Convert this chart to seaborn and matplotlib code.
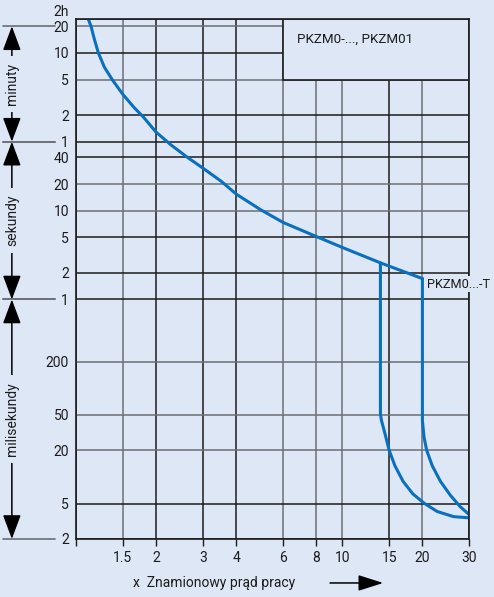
import matplotlib
matplotlib.use("Agg")
import matplotlib.pyplot as plt
import seaborn as sns
from matplotlib.patches import Rectangle
from matplotlib.ticker import NullLocator

BG = "#dde7f6"
BLUE = "#0a70bd"
DARK = "#1c1c1c"
GREY = "#6c6f76"

# x axis: multiples of rated operating current
x_ticks = [1, 1.5, 2, 3, 4, 6, 8, 10, 15, 20, 30]
x_labels = ["", "1.5", "2", "3", "4", "6", "8", "10", "15", "20", "30"]
x_grid_dark = [True, False, True, True, True, False, False, False, True, False, True]

# y axis: tripping time in seconds (labels in min / s / ms)
y_ticks = [0.002, 0.005, 0.02, 0.05, 0.2, 1, 2, 5, 10, 20, 40, 60, 120, 300, 600, 1200, 1450]
y_labels = ["2", "5", "20", "50", "200", "1", "2", "5", "10", "20", "40",
            "1", "2", "5", "10", "20", "2h"]
y_grid_dark = [True, True, False, False, False, True, True, True, False, False, True,
               True, True, False, True, False, True]

# unit ranges on the left side (seconds)
unit_names = ["minuty", "sekundy", "milisekundy"]
unit_bounds = [(1200, 60), (60, 1), (1, 0.002)]

# overload curve, common part
main_x = [1.112, 1.139, 1.172, 1.214, 1.279, 1.375, 1.50, 1.652, 1.795, 1.995, 2.278,
          2.621, 2.975, 3.51, 4.0, 4.93, 6.0, 8.02, 10.03, 13.95, 20.0]
main_t = [1450, 1200, 860, 600, 414, 294, 205, 146, 113, 77.4, 55.0,
          40, 30.7, 21.5, 15.4, 10.3, 7.38, 5.10, 3.85, 2.58, 1.72]

# PKZM0-..., PKZM01 short-circuit branch
std_x = [13.91, 13.91, 14.04, 14.47, 15.0, 15.77, 16.92, 18.40, 20.28, 22.73, 26.18, 30.0]
std_t = [2.58, 0.051, 0.0432, 0.0307, 0.020, 0.01336, 0.00893, 0.00646, 0.00507,
         0.00408, 0.00357, 0.00346]

# PKZM0...-T branch
tr_x = [20.0, 20.0, 20.28, 20.75, 21.78, 23.37, 25.46, 27.72, 30.0]
tr_t = [1.72, 0.0432, 0.0281, 0.020, 0.01336, 0.00893, 0.00622, 0.00463, 0.00375]


def main():
    sns.set_theme(style="white")
    plt.rcParams["font.family"] = ["Roboto", "DejaVu Sans"]
    plt.rcParams["font.size"] = 9.6

    fig = plt.figure(figsize=(4.94, 5.97), dpi=100, facecolor=BG)
    ax = fig.add_axes([0.1538, 0.0972, 0.7962, 0.871])
    ax.set_facecolor(BG)
    ax.set_xscale("log")
    ax.set_yscale("log")
    ax.set_xlim(1, 30)
    ax.set_ylim(0.002, 1450)

    ax.set_xticks(x_ticks, x_labels)
    ax.set_yticks(y_ticks, y_labels)
    ax.xaxis.set_minor_locator(NullLocator())
    ax.yaxis.set_minor_locator(NullLocator())
    ax.tick_params(axis="x", length=5, width=1.0, color=DARK, pad=4, labelcolor=DARK,
                   bottom=True, direction="out", labelsize=10)
    ax.tick_params(axis="y", length=0, pad=5, labelcolor=DARK, labelsize=10)
    top_label = ax.get_yticklabels()[-1]
    top_label.set_va("bottom")

    # grid, some lines dark, some grey
    ax.set_axisbelow(True)
    ax.grid(True, lw=1.1)
    for line, dark in zip(ax.get_xgridlines(), x_grid_dark):
        line.set_color(DARK if dark else GREY)
    for line, dark in zip(ax.get_ygridlines(), y_grid_dark):
        line.set_color(DARK if dark else GREY)
    for sp in ax.spines.values():
        sp.set_color(DARK)
        sp.set_linewidth(1.2)

    # legend box in the upper right corner
    ax.add_patch(Rectangle((6, 300), 24, 1450 - 300, facecolor=BG, edgecolor=DARK,
                           lw=1.2, zorder=1))
    ax.text(6.75, 860, "PKZM0-..., PKZM01", va="center", ha="left", color=DARK, zorder=3)

    # curves
    sns.lineplot(x=main_x, y=main_t, ax=ax, color=BLUE, lw=2.2, sort=False, estimator=None)
    sns.lineplot(x=std_x, y=std_t, ax=ax, color=BLUE, lw=2.2, sort=False, estimator=None)
    sns.lineplot(x=tr_x, y=tr_t, ax=ax, color=BLUE, lw=2.2, sort=False, estimator=None)
    ax.text(20.8, 1.48, "PKZM0...-T", va="center", ha="left", color=DARK, zorder=4,
            fontsize=9.2, bbox=dict(boxstyle="square,pad=0.12", fc=BG, ec="none"))

    # unit brackets on the left
    trans = ax.get_yaxis_transform()
    for name, (hi, lo) in zip(unit_names, unit_bounds):
        for val in (hi, lo):
            ax.plot([-0.186, -0.053], [val, val], transform=trans, color=GREY, lw=1.2,
                    clip_on=False)
        ax.annotate("", xy=(-0.163, hi), xytext=(-0.163, lo), xycoords=trans,
                    textcoords=trans,
                    arrowprops=dict(arrowstyle="<|-|>,head_length=0.75,head_width=0.28",
                                    color="black", lw=1.1, shrinkA=0, shrinkB=0,
                                    mutation_scale=20))
        ax.text(-0.163, (hi * lo) ** 0.5, name, transform=trans, rotation=90,
                ha="center", va="center", color=DARK, fontsize=10,
                bbox=dict(boxstyle="square,pad=0.5", fc=BG, ec="none"))

    # x label with arrow
    ax.set_xlabel("x  Znamionowy prąd pracy", color=DARK, ha="left", va="center",
                  fontsize=10)
    ax.xaxis.set_label_coords(0.145, -0.0846)
    ax.annotate("", xy=(0.781, -0.0846), xytext=(0.646, -0.0846),
                xycoords="axes fraction", textcoords="axes fraction",
                arrowprops=dict(arrowstyle="-|>,head_length=1.1,head_width=0.35",
                                color="black", lw=1.1, shrinkA=0, shrinkB=0,
                                mutation_scale=14))

    fig.savefig("out.png", dpi=100, facecolor=BG)


if __name__ == "__main__":
    main()
